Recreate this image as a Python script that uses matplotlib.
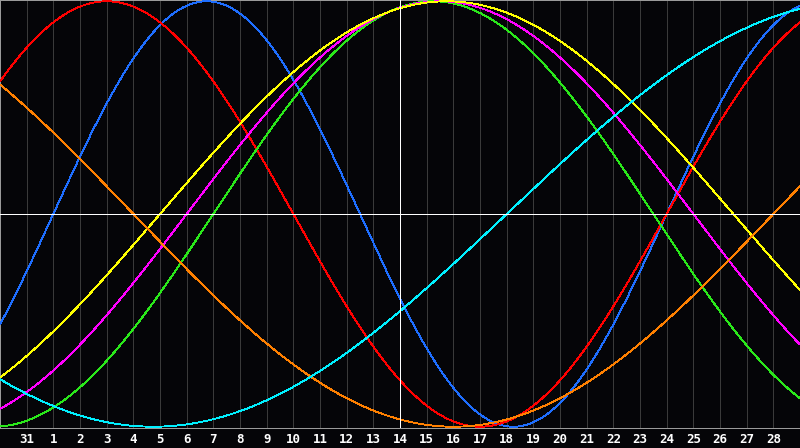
import numpy as np
import matplotlib
matplotlib.use("Agg")
import matplotlib.pyplot as plt

# ---- data ----
day_labels = ["31"] + [str(d) for d in range(1, 29)]   # grid days (index 1..29)
today_index = 15                                        # day 14 marker
cycle_names = ["physical", "emotional", "intellectual", "intuitive",
               "aesthetic", "awareness", "spiritual"]
cycle_periods = [23, 28, 33, 38, 43, 48, 53]            # days
cycle_day_at_start = [21.0, 3.0, 25.0, 31.0, 37.0, 19.0, 34.0]  # day within cycle at left edge
cycle_colors = ["#1e6eff", "#ff0000", "#2ae81a", "#ff00ff",
                "#ffff00", "#ff8000", "#00f0ff"]

n_days = len(day_labels) + 1   # 30 day-widths across the chart

bg = "#050508"
fig = plt.figure(figsize=(8.0, 4.48), dpi=100, facecolor=bg)
ax = fig.add_axes([0, 20 / 448, 1, 428 / 448])
ax.set_facecolor(bg)
ax.set_xlim(0, n_days)
ax.set_ylim(-1.006, 1.006)

# vertical day grid
tick_pos = np.arange(1, len(day_labels) + 1)
for xp in tick_pos:
    ax.axvline(xp, color="#3a3a3a", lw=0.65, zorder=1, antialiased=False)

# cycles
xs = np.linspace(0, n_days, 2400)
for name, P, d0, c in zip(cycle_names, cycle_periods, cycle_day_at_start, cycle_colors):
    ax.plot(xs, np.sin(2 * np.pi * (d0 + xs) / P), color=c, lw=0.65,
            zorder=3, antialiased=False, solid_capstyle="butt")

# today and zero lines
ax.axhline(0, color="white", lw=0.65, zorder=4, antialiased=False)
ax.axvline(today_index, color="white", lw=0.65, zorder=4, antialiased=False)

# axes frame
for s in ["left", "top", "bottom"]:
    ax.spines[s].set_color("#9a9a9a")
    ax.spines[s].set_linewidth(0.65)
    ax.spines[s].set_antialiased(False)
ax.spines["right"].set_visible(False)

ax.set_yticks([])
ax.set_xticks(tick_pos)
ax.set_xticklabels(day_labels, fontfamily="DejaVu Sans Mono", fontweight="bold",
                   fontsize=9, color="white")
ax.tick_params(axis="x", length=0, pad=3.5)

fig.savefig("out.png", dpi=100, facecolor=bg)
